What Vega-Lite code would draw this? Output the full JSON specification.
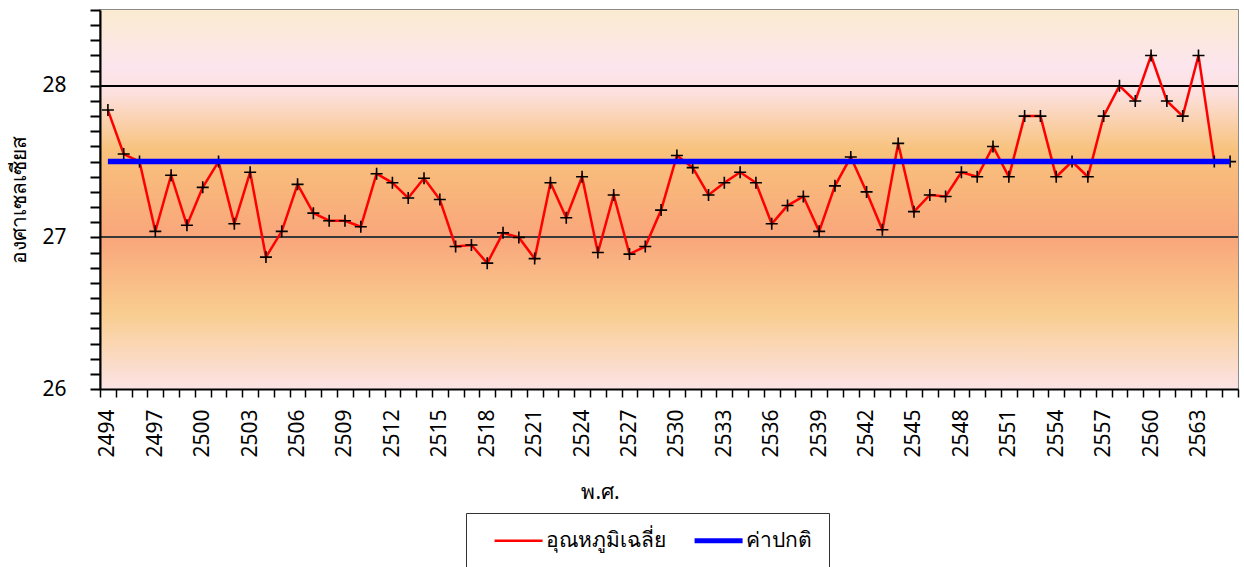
{
  "$schema": "https://vega.github.io/schema/vega-lite/v6.json",
  "width": 1138,
  "height": 379,
  "autosize": {"type": "none"},
  "padding": {"left": 100, "top": 10, "right": 6, "bottom": 178},
  "background": "white",
  "config": {
    "font": "Noto Sans",
    "view": {"stroke": "#666666", "strokeWidth": 1.5},
    "axis": {"labelFont": "Noto Sans", "titleFont": "Noto Sans", "labelColor": "black", "titleColor": "black", "titleFontWeight": "normal"},
    "legend": {"labelFont": "Noto Sans"}
  },
  "data": {"values": [
    {"year": 2494, "temp": 27.84, "normal": 27.5},
    {"year": 2495, "temp": 27.55, "normal": 27.5},
    {"year": 2496, "temp": 27.50, "normal": 27.5},
    {"year": 2497, "temp": 27.04, "normal": 27.5},
    {"year": 2498, "temp": 27.41, "normal": 27.5},
    {"year": 2499, "temp": 27.08, "normal": 27.5},
    {"year": 2500, "temp": 27.33, "normal": 27.5},
    {"year": 2501, "temp": 27.50, "normal": 27.5},
    {"year": 2502, "temp": 27.09, "normal": 27.5},
    {"year": 2503, "temp": 27.43, "normal": 27.5},
    {"year": 2504, "temp": 26.87, "normal": 27.5},
    {"year": 2505, "temp": 27.04, "normal": 27.5},
    {"year": 2506, "temp": 27.35, "normal": 27.5},
    {"year": 2507, "temp": 27.16, "normal": 27.5},
    {"year": 2508, "temp": 27.11, "normal": 27.5},
    {"year": 2509, "temp": 27.11, "normal": 27.5},
    {"year": 2510, "temp": 27.07, "normal": 27.5},
    {"year": 2511, "temp": 27.42, "normal": 27.5},
    {"year": 2512, "temp": 27.36, "normal": 27.5},
    {"year": 2513, "temp": 27.26, "normal": 27.5},
    {"year": 2514, "temp": 27.39, "normal": 27.5},
    {"year": 2515, "temp": 27.25, "normal": 27.5},
    {"year": 2516, "temp": 26.94, "normal": 27.5},
    {"year": 2517, "temp": 26.95, "normal": 27.5},
    {"year": 2518, "temp": 26.83, "normal": 27.5},
    {"year": 2519, "temp": 27.03, "normal": 27.5},
    {"year": 2520, "temp": 27.00, "normal": 27.5},
    {"year": 2521, "temp": 26.86, "normal": 27.5},
    {"year": 2522, "temp": 27.36, "normal": 27.5},
    {"year": 2523, "temp": 27.13, "normal": 27.5},
    {"year": 2524, "temp": 27.40, "normal": 27.5},
    {"year": 2525, "temp": 26.90, "normal": 27.5},
    {"year": 2526, "temp": 27.28, "normal": 27.5},
    {"year": 2527, "temp": 26.89, "normal": 27.5},
    {"year": 2528, "temp": 26.94, "normal": 27.5},
    {"year": 2529, "temp": 27.18, "normal": 27.5},
    {"year": 2530, "temp": 27.54, "normal": 27.5},
    {"year": 2531, "temp": 27.46, "normal": 27.5},
    {"year": 2532, "temp": 27.28, "normal": 27.5},
    {"year": 2533, "temp": 27.36, "normal": 27.5},
    {"year": 2534, "temp": 27.43, "normal": 27.5},
    {"year": 2535, "temp": 27.36, "normal": 27.5},
    {"year": 2536, "temp": 27.09, "normal": 27.5},
    {"year": 2537, "temp": 27.21, "normal": 27.5},
    {"year": 2538, "temp": 27.27, "normal": 27.5},
    {"year": 2539, "temp": 27.04, "normal": 27.5},
    {"year": 2540, "temp": 27.34, "normal": 27.5},
    {"year": 2541, "temp": 27.53, "normal": 27.5},
    {"year": 2542, "temp": 27.30, "normal": 27.5},
    {"year": 2543, "temp": 27.05, "normal": 27.5},
    {"year": 2544, "temp": 27.62, "normal": 27.5},
    {"year": 2545, "temp": 27.17, "normal": 27.5},
    {"year": 2546, "temp": 27.28, "normal": 27.5},
    {"year": 2547, "temp": 27.27, "normal": 27.5},
    {"year": 2548, "temp": 27.43, "normal": 27.5},
    {"year": 2549, "temp": 27.40, "normal": 27.5},
    {"year": 2550, "temp": 27.60, "normal": 27.5},
    {"year": 2551, "temp": 27.40, "normal": 27.5},
    {"year": 2552, "temp": 27.80, "normal": 27.5},
    {"year": 2553, "temp": 27.80, "normal": 27.5},
    {"year": 2554, "temp": 27.40, "normal": 27.5},
    {"year": 2555, "temp": 27.50, "normal": 27.5},
    {"year": 2556, "temp": 27.40, "normal": 27.5},
    {"year": 2557, "temp": 27.80, "normal": 27.5},
    {"year": 2558, "temp": 28.00, "normal": 27.5},
    {"year": 2559, "temp": 27.90, "normal": 27.5},
    {"year": 2560, "temp": 28.20, "normal": 27.5},
    {"year": 2561, "temp": 27.90, "normal": 27.5},
    {"year": 2562, "temp": 27.80, "normal": 27.5},
    {"year": 2563, "temp": 28.20, "normal": 27.5},
    {"year": 2564, "temp": 27.50, "normal": 27.5},
    {"year": 2565, "temp": 27.50, "normal": 27.5}
  ]},
  "encoding": {
    "x": {
      "field": "year", "type": "ordinal",
      "scale": {"type": "band", "paddingInner": 0, "paddingOuter": 0},
      "axis": {
        "title": "พ.ศ.", "titleFontSize": 21, "titleX": 500, "titleY": 103, "titleBaseline": "middle", "titleAlign": "center",
        "labelAngle": -90, "labelFontSize": 21, "labelPadding": 12, "labelOverlap": false,
        "labelExpr": "(datum.value - 2494) % 3 === 0 ? datum.label : ''",
        "ticks": true, "tickBand": "extent", "tickSize": 8, "tickWidth": 1.5, "tickColor": "black", "tickOpacity": 1,
        "domainColor": "black", "domainWidth": 2, "grid": false, "zindex": 1
      }
    }
  },
  "layer": [
    {
      "mark": {"type": "rect", "color": {"gradient": "linear", "x1": 0, "y1": 0, "x2": 0, "y2": 1, "stops": [
        {"offset": 0, "color": "#FBEBD0"},
        {"offset": 0.15, "color": "#FCE5EE"},
        {"offset": 0.22, "color": "#FCE0DE"},
        {"offset": 0.37, "color": "#F8C27C"},
        {"offset": 0.6, "color": "#F9A67B"},
        {"offset": 0.8, "color": "#F9CD8F"},
        {"offset": 1, "color": "#FCE3E6"}
      ]}},
      "encoding": {"x": null, "y": {"datum": 26}, "y2": {"datum": 28.5}}
    },
    {"mark": {"type": "rule", "color": "black", "strokeWidth": 1}, "encoding": {"x": null, "y": {"datum": 28}}},
    {"mark": {"type": "rule", "color": "#3a3a3a", "strokeWidth": 1}, "encoding": {"x": null, "y": {"datum": 27}}},
    {
      "mark": {"type": "line", "strokeWidth": 2.5},
      "encoding": {
        "y": {
          "field": "temp", "type": "quantitative",
          "scale": {"domain": [26, 28.5], "nice": false, "zero": false},
          "axis": {
            "title": "องศาเซลเซียส", "titleFontSize": 21, "titlePadding": 12,
            "values": [26, 26.1, 26.2, 26.3, 26.4, 26.5, 26.6, 26.7, 26.8, 26.9, 27, 27.1, 27.2, 27.3, 27.4, 27.5, 27.6, 27.7, 27.8, 27.9, 28, 28.1, 28.2, 28.3, 28.4, 28.5],
            "tickCount": 100,
            "labelExpr": "abs(datum.value - round(datum.value)) < 0.001 ? format(datum.value, 'd') : ''",
            "labelFontSize": 21, "labelPadding": 24, "labelOverlap": false,
            "tickSize": 10, "tickWidth": 2, "tickColor": "black",
            "domainColor": "black", "domainWidth": 2, "grid": false, "zindex": 1
          }
        },
        "color": {
          "datum": "อุณหภูมิเฉลี่ย", "type": "nominal",
          "scale": {"domain": ["อุณหภูมิเฉลี่ย", "ค่าปกติ"], "range": ["#FF0000", "#0000FF"]},
          "legend": {
            "title": null, "orient": "none", "legendX": 366, "legendY": 503, "direction": "horizontal",
            "symbolType": "M0.045,0H2.045", "symbolSize": 2304, "symbolStrokeWidth": 3,
            "labelFontSize": 21, "labelOffset": 42, "columnPadding": 17,
            "padding": 17, "strokeColor": "#333333", "fillColor": "white",
            "encode": {"symbols": {"update": {"strokeWidth": {"signal": "datum.value === 'ค่าปกติ' ? 5 : 2.5"}}}}
          }
        }
      }
    },
    {
      "mark": {"type": "point", "shape": "M-1,0H1M0,-1V1", "filled": false, "stroke": "black", "strokeWidth": 1.6, "size": 144, "opacity": 1},
      "encoding": {"y": {"field": "temp", "type": "quantitative"}}
    },
    {
      "mark": {"type": "line", "strokeWidth": 5.5},
      "encoding": {
        "y": {"field": "normal", "type": "quantitative"},
        "color": {"datum": "ค่าปกติ", "type": "nominal"}
      }
    }
  ]
}
